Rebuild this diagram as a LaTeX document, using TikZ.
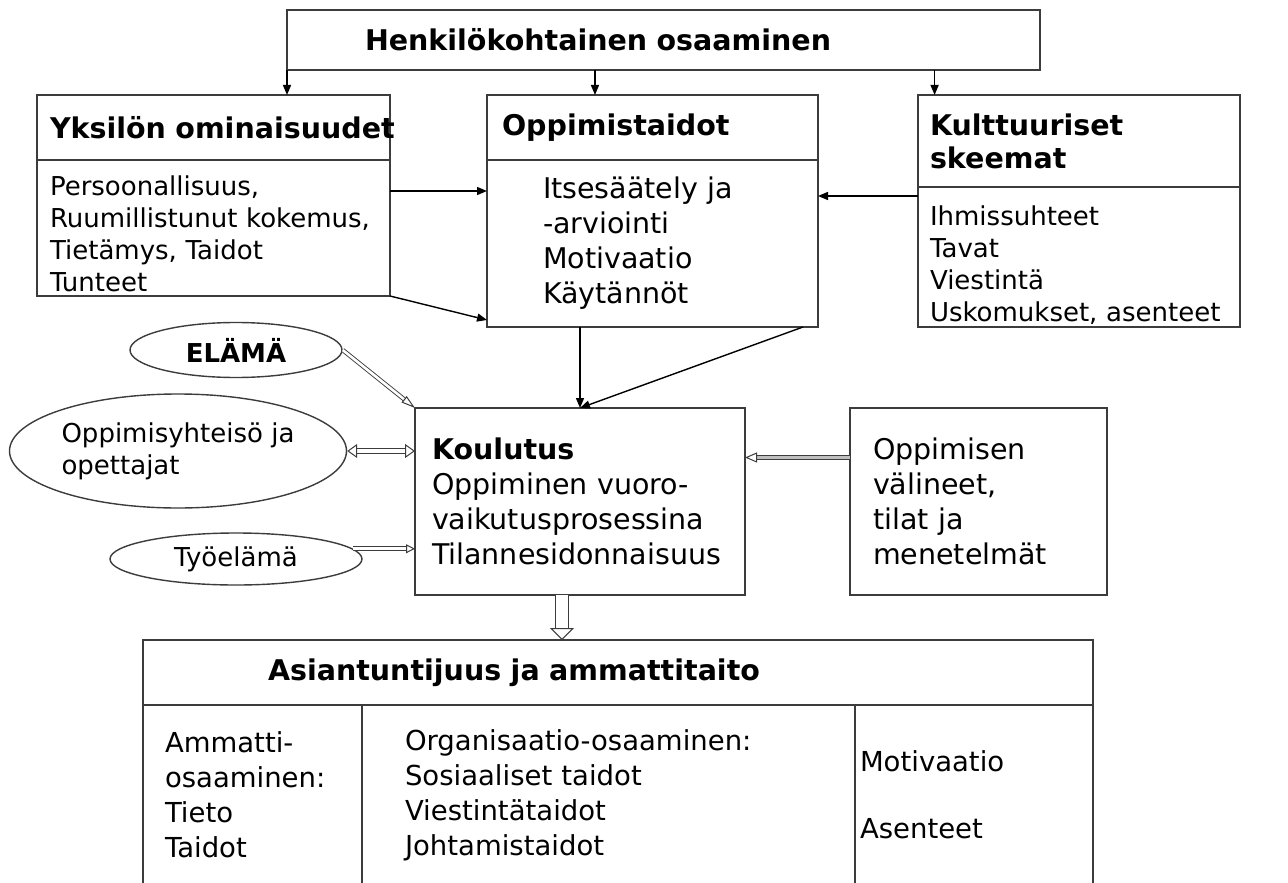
\documentclass[tikz,border=0pt]{standalone}
\usepackage{fontspec}
\setmainfont{DejaVu Sans}
\usetikzlibrary{positioning,arrows.meta,shapes.geometric,calc}
\definecolor{ln}{HTML}{3C3C3C}
\tikzset{
  >={Triangle[length=5pt,width=4pt]},
  hollow/.tip={Triangle[fill=white, line width=0.5pt]},
  box/.style={draw=ln, line width=0.8pt, rectangle, anchor=north west, align=left,
              inner ysep=0pt, outer sep=0pt, font=\fontsize{13}{16}\selectfont},
  big/.style={font=\fontsize{14.25}{17.5}\selectfont},
  cell/.style={box, font=\fontsize{13.75}{17.5}\selectfont},
  head/.style={box, font=\bfseries\fontsize{14.25}{16.5}\selectfont},
  oval/.style={ellipse, draw=ln, line width=0.7pt, inner sep=0pt, align=left,
               font=\fontsize{13}{16}\selectfont},
  l/.style={->, line width=0.7pt, draw=black},
  dbl/.style={draw=ln, line width=0.45pt, double=white, double distance=1.6pt,
              -{hollow[length=6pt,width=5pt]}},
}
\begin{document}
\begin{tikzpicture}[x=0.5pt, y=-0.5pt]
  \useasboundingbox (0,0) rectangle (1288,882);
  \clip (0,0) rectangle (1288,882);
  % top row
  \node[head, minimum width=376.5pt, minimum height=30pt, inner xsep=39pt, text width=298.5pt] (henk) at (287,10) {Henkilökohtainen osaaminen};
  \node[head, minimum width=176.5pt, minimum height=32.5pt, inner xsep=6.5pt, text width=163.5pt] (yksh) at (37,95) {\mbox{Yksilön ominaisuudet}};
  \node[box, minimum width=176.5pt, minimum height=68pt, inner xsep=6.5pt, text width=163.5pt, below=0pt of yksh] (yksb) {\rule{0pt}{16pt}Persoonallisuus,\\Ruumillistunut kokemus,\\Tietämys, Taidot\\Tunteet};
  \node[head, minimum width=165.5pt, minimum height=32.5pt, inner xsep=7.5pt, text width=150.5pt] (opph) at (487,95) {Oppimistaidot};
  \node[box, big, minimum width=165.5pt, minimum height=83.5pt, inner xsep=28pt, text width=109.5pt, below=0pt of opph] (oppb) {Itsesäätely ja\\-arviointi\\Motivaatio\\Käytännöt};
  \node[head, minimum width=161pt, minimum height=46pt, inner xsep=6pt, text width=149pt] (kulth) at (918,95) {Kulttuuriset\\skeemat};
  \node[box, minimum width=161pt, minimum height=70pt, inner xsep=6pt, text width=149pt, below=0pt of kulth] (kultb) {\rule{0pt}{18pt}Ihmissuhteet\\Tavat\\Viestintä\\Uskomukset, asenteet};
  % middle row
  \node[box, big, minimum width=165pt, minimum height=93.5pt, inner xsep=8.5pt, text width=148pt] (koul) at (415,408) {\textbf{Koulutus}\\Oppiminen vuoro-\\vaikutusprosessina\\Tilannesidonnaisuus};
  \node[box, big, minimum width=128.5pt, minimum height=93.5pt, inner xsep=11.5pt, text width=105.5pt] (oppm) at (850,408) {Oppimisen\\välineet,\\tilat ja\\menetelmät};
  \node[oval, minimum width=106pt, minimum height=27.5pt, font=\bfseries\fontsize{13}{16}\selectfont] (elama) at (236,350) {ELÄMÄ};
  \node[oval, minimum width=168.5pt, minimum height=57pt] (yht) at (178,451) {Oppimisyhteisö ja\\opettajat};
  \node[oval, minimum width=126pt, minimum height=26pt] (tyo) at (236,559) {\raisebox{-3pt}{Työelämä}};
  % bottom table
  \node[head, minimum width=475pt, minimum height=32.5pt, inner xsep=62.5pt, text width=350pt] (ash) at (143,640) {Asiantuntijuus ja ammattitaito};
  \node[cell, minimum width=109.5pt, minimum height=90pt, inner xsep=11pt, text width=87.5pt, below=0pt of ash.south west, anchor=north west] (col1) {Ammatti-\\osaaminen:\\Tieto\\Taidot};
  \node[cell, minimum width=246.5pt, minimum height=90pt, inner xsep=21.5pt, text width=203.5pt, right=0pt of col1] (col2) {Organisaatio-osaaminen:\\Sosiaaliset taidot\\Viestintätaidot\\Johtamistaidot};
  \node[cell, minimum width=119pt, minimum height=90pt, inner xsep=2.5pt, text width=114pt, right=0pt of col2] (col3) {Motivaatio\\[16pt]Asenteet};

  \coordinate (t2) at ($(henk.south west)!0.409!(henk.south east)$);
  \coordinate (t3) at ($(henk.south west)!0.86!(henk.south east)$);
  \coordinate (y1) at ([yshift=-15.5pt]yksb.north east);
  \coordinate (k1) at ([yshift=-4.5pt]kultb.north west);
  \coordinate (m1) at ([yshift=22pt]oppm.west);
  \coordinate (f1) at ([xshift=-9pt]koul.south);

  \draw[l] (henk.south west) -- (henk.south west |- yksh.north);
  \draw[l] (t2) -- (t2 |- opph.north);
  \draw[l] (t3) -- (t3 |- kulth.north);
  \draw[l] (y1) -- (y1 -| oppb.west);
  \draw[l] (yksb.south east) -- ([yshift=3.5pt]oppb.south west);
  \draw[l] (k1) -- (k1 -| oppb.east);
  \draw[l] (koul.north |- oppb.south) -- (koul.north);
  \draw[l] ([xshift=-7.5pt]oppb.south east) -- (koul.north);

  \draw[dbl, double distance=1.3pt, -{hollow[length=7pt,width=4pt]}] (elama.east) -- (koul.north west);
  \draw[dbl, {hollow[length=5pt,width=7pt]}-{hollow[length=5pt,width=7pt]}, double distance=2.2pt] (yht.east) -- (yht.east -| koul.west);
  \draw[dbl, -{hollow[length=4.5pt,width=4.5pt]}] (tyo.5) -- (tyo.5 -| koul.west);
  \draw[dbl, double=gray!50] (m1) -- (m1 -| koul.east);
  \draw[dbl, double distance=6pt, -{hollow[length=6pt,width=12pt]}] (f1) -- (f1 |- ash.north);
\end{tikzpicture}
\end{document}
